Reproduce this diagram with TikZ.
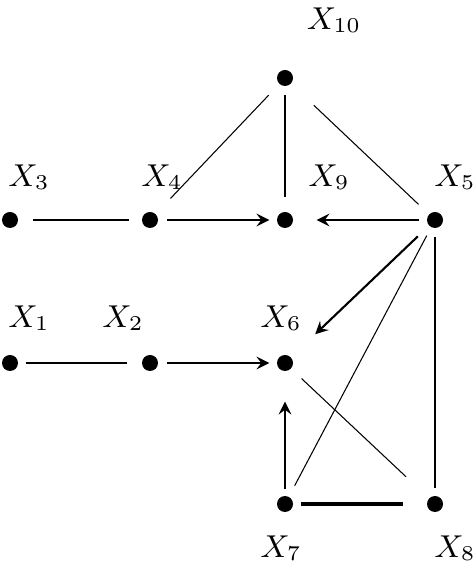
\documentclass[tikz,border=0pt]{standalone}
\usepackage{tikz}
\usetikzlibrary{arrows}
\tikzstyle{dot} = [circle, fill=black, inner sep=0pt, minimum size=0.16cm]
\tikzstyle{lab} = [inner sep=0pt, font=\small]
\tikzstyle{thinline} = [line width=0.3pt]
\tikzstyle{midline} = [line width=0.6pt]
\tikzstyle{fatline} = [line width=0.9pt]
\tikzstyle{arrow} = [line width=0.6pt,->,>=stealth]

\begin{document}
\begin{tikzpicture}
\useasboundingbox (0,0) rectangle (4.74,5.66);
%Vertices
\node[dot] (x10) at (2.85,4.88) {};
\node[dot] (x3) at (0.10,3.46) {};
\node[dot] (x4) at (1.50,3.46) {};
\node[dot] (x9) at (2.85,3.46) {};
\node[dot] (x5) at (4.35,3.46) {};
\node[dot] (x1) at (0.10,2.03) {};
\node[dot] (x2) at (1.50,2.03) {};
\node[dot] (x6) at (2.85,2.03) {};
\node[dot] (x7) at (2.85,0.62) {};
\node[dot] (x8) at (4.35,0.62) {};

%Labels
\node[lab] (l10) at (3.34,5.46) {$X_{10}$};
\node[lab] (l3) at (0.29,3.89) {$X_3$};
\node[lab] (l4) at (1.62,3.89) {$X_4$};
\node[lab] (l9) at (3.29,3.89) {$X_9$};
\node[lab] (l5) at (4.55,3.89) {$X_5$};
\node[lab] (l1) at (0.29,2.48) {$X_1$};
\node[lab] (l2) at (1.23,2.48) {$X_2$};
\node[lab] (l6) at (2.81,2.48) {$X_6$};
\node[lab] (l7) at (2.81,0.18) {$X_7$};
\node[lab] (l8) at (4.55,0.18) {$X_8$};

%Edges
\draw[midline, shorten <=0.14cm, shorten >=0.12cm] (x3) -- (x4);
\draw[arrow, shorten <=0.08cm, shorten >=0.07cm] (x4) -- (x9);
\draw[arrow, shorten <=0.07cm, shorten >=0.23cm] (x5) -- (x9);
\draw[midline, shorten <=0.08cm, shorten >=0.14cm] (x10) -- (x9);
\draw[thinline, shorten <=0.15cm, shorten >=0.21cm] (x10) -- (x4);
\draw[thinline, shorten <=0.31cm, shorten >=0.14cm] (x10) -- (x5);
\draw[midline, shorten <=0.07cm, shorten >=0.14cm] (x1) -- (x2);
\draw[arrow, shorten <=0.08cm, shorten >=0.07cm] (x2) -- (x6);
\draw[arrow, shorten <=0.15cm, shorten >=0.33cm] (x5) -- (x6);
\draw[thinline, shorten <=0.09cm, shorten >=0.12cm] (x5) -- (x7);
\draw[midline, shorten <=0.08cm, shorten >=0.07cm] (x5) -- (x8);
\draw[thinline, shorten <=0.14cm, shorten >=0.31cm] (x6) -- (x8);
\draw[arrow, shorten <=0.06cm, shorten >=0.30cm] (x7) -- (x6);
\draw[fatline, shorten <=0.07cm, shorten >=0.23cm] (x7) -- (x8);
\end{tikzpicture}
\end{document}
